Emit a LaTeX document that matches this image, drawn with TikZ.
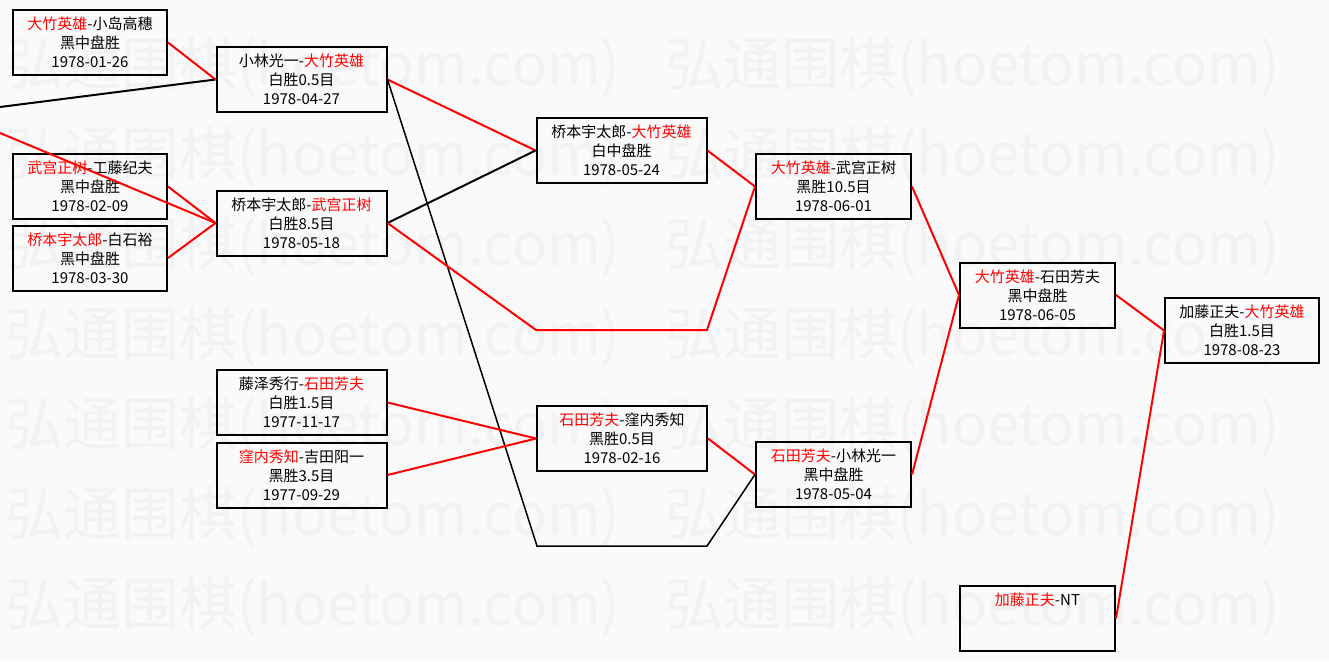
\documentclass[tikz,border=0pt]{standalone}
\usepackage{fontspec}
\newfontfamily\cjk{Noto Sans CJK SC}
\newcommand{\winner}[1]{\textcolor{red}{#1}}

\begin{document}
\begin{tikzpicture}[x=1pt, y=-1pt,
    game/.style={draw, line width=2pt, minimum height=65pt, inner sep=0pt, align=center, font=\cjk\fontsize{15}{19}\selectfont},
    won/.style={red, line width=2pt},
    lost/.style={black, line width=2pt},
    wmark/.style={anchor=west, inner sep=0pt, text=black!5, font=\cjk\fontsize{58}{58}\selectfont}
]
\fill[black!2] (0,0) rectangle (1329,661);
\useasboundingbox (0,0) rectangle (1329,661);
\foreach \r in {67,157,...,607}
  \foreach \c in {5,665}
    \node[wmark] (wm-\r-\c) at (\c,\r) {弘通围棋(hoetom.com)};

\node[game, minimum width=154pt] (d0126) at (90,42.5) {\winner{大竹英雄}-小岛高穗\\黑中盘胜\\1978-01-26};
\node[game, minimum width=154pt] (d0209) at (90,186.5) {\winner{武宫正树}-工藤纪夫\\黑中盘胜\\1978-02-09};
\node[game, minimum width=154pt] (d0330) at (90,258) {\winner{桥本宇太郎}-白石裕\\黑中盘胜\\1978-03-30};
\node[game, minimum width=170pt] (d0427) at (301.5,79.5) {小林光一-\winner{大竹英雄}\\白胜0.5目\\1978-04-27};
\node[game, minimum width=170pt] (d0518) at (301.5,223) {桥本宇太郎-\winner{武宫正树}\\白胜8.5目\\1978-05-18};
\node[game, minimum width=170pt] (d1117) at (301.5,402.5) {藤泽秀行-\winner{石田芳夫}\\白胜1.5目\\1977-11-17};
\node[game, minimum width=170pt] (d0929) at (301.5,475) {\winner{窪内秀知}-吉田阳一\\黑胜3.5目\\1977-09-29};
\node[game, minimum width=170pt] (d0524) at (621.5,150.5) {桥本宇太郎-\winner{大竹英雄}\\白中盘胜\\1978-05-24};
\node[game, minimum width=170pt] (d0216) at (622,438.5) {\winner{石田芳夫}-窪内秀知\\黑胜0.5目\\1978-02-16};
\node[game, minimum width=155pt] (d0601) at (833.5,186.5) {\winner{大竹英雄}-武宫正树\\黑胜10.5目\\1978-06-01};
\node[game, minimum width=155pt] (d0504) at (833.5,474.5) {\winner{石田芳夫}-小林光一\\黑中盘胜\\1978-05-04};
\node[game, minimum width=155pt] (d0605) at (1037.5,295) {\winner{大竹英雄}-石田芳夫\\黑中盘胜\\1978-06-05};
\node[game, minimum width=155pt] (kato) at (1037.5,618.5) {\winner{加藤正夫}-NT\\~\\~};
\node[game, minimum width=154pt] (d0823) at (1242,330.5) {加藤正夫-\winner{大竹英雄}\\白胜1.5目\\1978-08-23};

\coordinate (inKoba) at (0,107);
\coordinate (inHashi) at (0,133);
\coordinate (byeA) at (536,330);
\coordinate (byeB) at (707,330);
\coordinate (byeC) at (537,546);
\coordinate (byeD) at (707,546);

\draw[lost] (inKoba) -- (d0427.west);
\draw[won] (d0126.east) -- (d0427.west);
\draw[won] (inHashi) -- (d0518.west);
\draw[won] (d0209.east) -- (d0518.west);
\draw[won] (d0330.east) -- (d0518.west);
\draw[won] (d0427.east) -- (d0524.west);
\draw[lost] (d0518.east) -- (d0524.west);
\draw[lost, line width=1.5pt] (d0427.east) -- (byeC) -- (byeD) -- (d0504.west);
\draw[won] (d0518.east) -- (byeA) -- (byeB) -- (d0601.west);
\draw[won] (d1117.east) -- (d0216.west);
\draw[won] (d0929.east) -- (d0216.west);
\draw[won] (d0524.east) -- (d0601.west);
\draw[won] (d0216.east) -- (d0504.west);
\draw[won] (d0601.east) -- (d0605.west);
\draw[won] (d0504.east) -- (d0605.west);
\draw[won] (d0605.east) -- (d0823.west);
\draw[won] (kato.east) -- (d0823.west);
\end{tikzpicture}
\end{document}
